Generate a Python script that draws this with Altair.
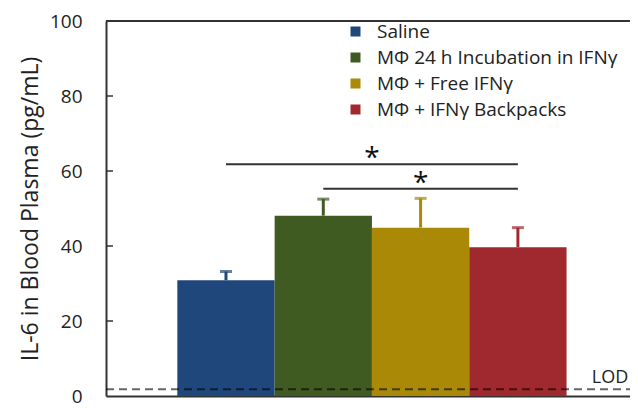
import altair as alt
import pandas as pd

groups = ["Saline", "MΦ 24 h Incubation in IFNγ", "MΦ + Free IFNγ", "MΦ + IFNγ Backpacks"]
means = [30.9, 48.1, 44.9, 39.7]
err_upper = [2.3, 4.4, 7.8, 5.2]
colors = ["#1f477b", "#3f5b22", "#a98906", "#a0292f"]

sig_start = [0, 1]
sig_end = [3, 3]
sig_level = [61.8, 55.3]
sig_label = ["*", "*"]

lod_value = 1.8
y_ticks = [0, 20, 40, 60, 80, 100]
inner_ticks = [20, 40, 60, 80]

W, H = 524, 375
FONT = "Open Sans"

df = pd.DataFrame({"group": groups, "mean": means, "err": err_upper, "idx": list(range(len(groups)))})
df_sig = pd.DataFrame({"a": sig_start, "b": sig_end, "y": sig_level, "lab": sig_label})

xs = alt.Scale(domain=[-1.233, 4.152], nice=False, zero=False)
ys = alt.Scale(domain=[0, 100], nice=False)
cs = alt.Scale(domain=groups, range=colors)

base = alt.Chart(df)

bars = base.transform_calculate(
    x0="datum.idx - 0.5", x1="datum.idx + 0.5"
).mark_bar(stroke=None).encode(
    x=alt.X("x0:Q", scale=xs, axis=alt.Axis(domain=True, domainColor="#333", domainWidth=2,
                                             labels=False, ticks=False, grid=False, title=None)),
    x2="x1:Q",
    y=alt.Y("mean:Q", scale=ys, axis=alt.Axis(values=y_ticks, title="IL-6 in Blood Plasma (pg/mL)",
                                              labelFontSize=19, labelFont=FONT, labelColor="#222",
                                              labelPadding=24, ticks=False, grid=False,
                                              domainColor="#333", domainWidth=2,
                                              titleFontSize=23, titleFont=FONT, titleFontWeight="normal",
                                              titleColor="#222", titlePadding=7)),
    y2=alt.datum(0),
    color=alt.Color("group:N", scale=cs, sort=groups,
                    legend=alt.Legend(orient="none", legendX=240, legendY=1, title=None,
                                      symbolType="square", symbolSize=100, symbolStrokeWidth=0,
                                      labelFontSize=19, labelFont=FONT, labelColor="#222",
                                      labelLimit=0, labelOffset=12, rowPadding=6, symbolOpacity=1)),
)

stems = base.transform_calculate(top="datum.mean + datum.err").mark_rule(strokeWidth=3).encode(
    x=alt.X("idx:Q", scale=xs), y=alt.Y("mean:Q", scale=ys), y2="top:Q",
    color=alt.Color("group:N", scale=cs, legend=None),
)
caps = base.transform_calculate(top="datum.mean + datum.err").mark_tick(
    orient="horizontal", size=12, thickness=3).encode(
    x=alt.X("idx:Q", scale=xs), y=alt.Y("top:Q", scale=ys),
    color=alt.Color("group:N", scale=cs, legend=None),
)

sig_lines = alt.Chart(df_sig).mark_rule(color="#333", strokeWidth=2).encode(
    x=alt.X("a:Q", scale=xs), x2="b:Q", y=alt.Y("y:Q", scale=ys))
sig_text = alt.Chart(df_sig).transform_calculate(mid="(datum.a + datum.b) / 2").mark_text(
    fontSize=28, font=FONT, color="#111", dy=9, baseline="bottom").encode(
    x=alt.X("mid:Q", scale=xs), y=alt.Y("y:Q", scale=ys), text="lab:N")

lod_line = alt.Chart(pd.DataFrame({"v": [lod_value]})).mark_rule(
    color="black", opacity=0.6, strokeWidth=2, strokeDash=[8, 5]).encode(
    y=alt.Y("v:Q", scale=ys), x=alt.value(0), x2=alt.value(W))
lod_text = alt.Chart(pd.DataFrame({"v": [lod_value], "t": ["LOD"]})).mark_text(
    fontSize=18, font=FONT, color="#222", baseline="bottom", dy=-2).encode(
    y=alt.Y("v:Q", scale=ys), x=alt.value(W - 20), text="t:N")

top_line = alt.Chart(pd.DataFrame({"v": [100]})).mark_rule(color="#333", strokeWidth=2).encode(
    y=alt.Y("v:Q", scale=ys), x=alt.value(0), x2=alt.value(W))
tick_marks = alt.Chart(pd.DataFrame({"v": inner_ticks})).mark_rule(color="#333", strokeWidth=1.5).encode(
    y=alt.Y("v:Q", scale=ys), x=alt.value(0), x2=alt.value(7))

chart = alt.layer(bars, stems, caps, lod_line, sig_lines, sig_text, lod_text, top_line, tick_marks).properties(
    width=W, height=H, autosize=alt.AutoSizeParams(type="none"),
    padding={"left": 98, "top": 13, "right": 0, "bottom": 12},
).configure_view(stroke=None).configure(background="white")

chart.save("out.html", embed_options={"renderer": "svg", "actions": False})
